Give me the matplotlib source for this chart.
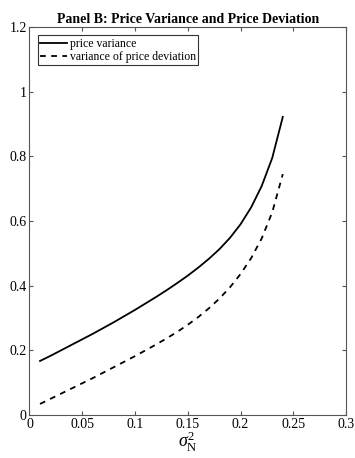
import matplotlib
matplotlib.use("Agg")
import matplotlib.pyplot as plt
import numpy as np

sigma2 = [0.01, 0.02, 0.03, 0.04, 0.05, 0.06, 0.07, 0.08, 0.09, 0.10, 0.11, 0.12,
          0.13, 0.14, 0.15, 0.16, 0.17, 0.18, 0.19, 0.20, 0.21, 0.22, 0.23, 0.24]
price_var = [0.167, 0.183, 0.200, 0.217, 0.234, 0.251, 0.269, 0.287, 0.306, 0.325,
             0.345, 0.365, 0.386, 0.408, 0.431, 0.456, 0.483, 0.513, 0.548, 0.590,
             0.642, 0.708, 0.795, 0.922]
dev_var = [0.034, 0.050, 0.066, 0.082, 0.098, 0.114, 0.131, 0.148, 0.165, 0.182,
           0.200, 0.218, 0.237, 0.257, 0.279, 0.303, 0.330, 0.360, 0.395, 0.436,
           0.485, 0.546, 0.627, 0.745]
xticks = [0, 0.05, 0.1, 0.15, 0.2, 0.25, 0.3]
xlabels = ['0', '0.05', '0.1', '0.15', '0.2', '0.25', '0.3']
yticks = [0, 0.2, 0.4, 0.6, 0.8, 1, 1.2]
ylabels = ['0', '0.2', '0.4', '0.6', '0.8', '1', '1.2']

plt.rcParams['font.family'] = 'Liberation Serif'
plt.rcParams['mathtext.fontset'] = 'custom'
plt.rcParams['mathtext.rm'] = 'Liberation Serif'
plt.rcParams['mathtext.it'] = 'Liberation Serif:italic'

fig = plt.figure(figsize=(3.55, 4.58), dpi=100)
ax = fig.add_axes([0.083, 0.094, 0.892, 0.847])

ax.plot(sigma2, price_var, 'k-', lw=1.3, label='price variance')
ax.plot(sigma2, dev_var, 'k--', lw=1.3, dashes=(3.2, 3), label='variance of price deviation')

ax.set_xlim(0, 0.3)
ax.set_ylim(0, 1.2)
ax.set_xticks(xticks)
ax.set_xticklabels(xlabels)
ax.set_yticks(yticks)
ax.set_yticklabels(ylabels)
ax.tick_params(direction='in', top=True, right=True, labelsize=10, length=3,
               color='#555555', pad=2)
for s in ax.spines.values():
    s.set_color('#555555')
    s.set_linewidth(0.8)

ax.set_xlabel(r'$\sigma_{\mathrm{N}}^{2}$', fontsize=13, labelpad=-1)
ax.set_title('Panel B: Price Variance and Price Deviation', fontsize=10,
             fontweight='bold', pad=3)

leg = ax.legend(loc='upper left', fontsize=8.5, fancybox=False, framealpha=1,
                edgecolor='#333333', handlelength=2.3, handletextpad=0.2,
                borderpad=0.2, labelspacing=0.1, borderaxespad=0.7)
leg.get_frame().set_linewidth(0.8)

fig.savefig('out.png', dpi=100)
